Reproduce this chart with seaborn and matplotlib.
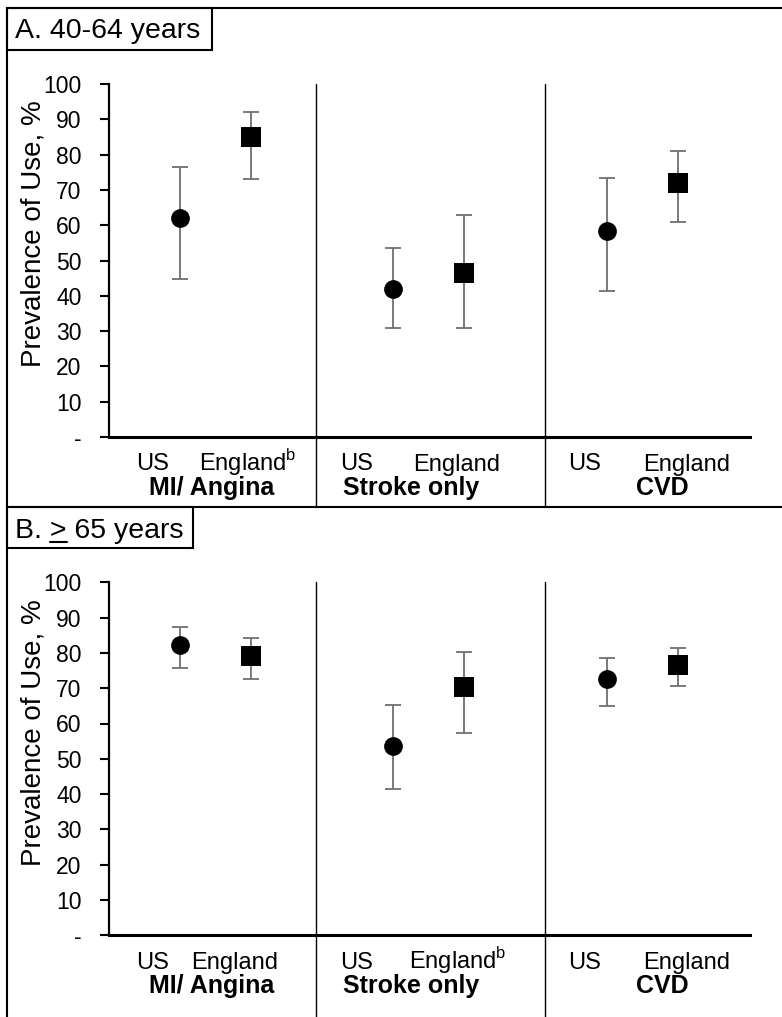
import numpy as np
import pandas as pd
import matplotlib
matplotlib.use('Agg')
import matplotlib.pyplot as plt
import matplotlib.transforms as mtransforms
from matplotlib.lines import Line2D
from matplotlib.patches import Rectangle
import seaborn as sns

# values (prevalence of use, % with 95% CI)
conditions = ['MI/ Angina', 'Stroke only', 'CVD']
countries = ['US', 'England']

us_4064 = [62.0, 41.8, 58.3]
us_4064_lo = [44.8, 30.8, 41.4]
us_4064_hi = [76.6, 53.6, 73.3]
eng_4064 = [85.1, 46.5, 72.0]
eng_4064_lo = [73.0, 30.8, 60.8]
eng_4064_hi = [92.0, 62.8, 81.0]

us_65 = [82.2, 53.6, 72.5]
us_65_lo = [75.8, 41.4, 65.0]
us_65_hi = [87.2, 65.2, 78.6]
eng_65 = [79.2, 70.3, 76.7]
eng_65_lo = [72.7, 57.3, 70.7]
eng_65_hi = [84.2, 80.2, 81.4]

ytick_vals = list(range(0, 101, 10))
ytick_labels = ['-'] + [str(v) for v in ytick_vals[1:]]

sns.set_theme(style='white')
plt.rcParams['font.family'] = ['Liberation Sans', 'DejaVu Sans']
plt.rcParams['mathtext.fontset'] = 'custom'
plt.rcParams['mathtext.rm'] = 'Liberation Sans'
plt.rcParams['text.color'] = 'black'
plt.rcParams['axes.labelcolor'] = 'black'
plt.rcParams['ytick.color'] = 'black'

W, H = 782, 1017
fig = plt.figure(figsize=(W / 100, H / 100), dpi=100)


def fx(x):
    return x / W


def fy(y):
    return 1 - y / H


def make_df(us, us_lo, us_hi, eng, eng_lo, eng_hi):
    rows = []
    for i, c in enumerate(conditions):
        rows.append(dict(condition=c, country='US', est=us[i], lo=us_lo[i], hi=us_hi[i], pos=i * 3))
        rows.append(dict(condition=c, country='England', est=eng[i], lo=eng_lo[i], hi=eng_hi[i], pos=i * 3 + 1))
    return pd.DataFrame(rows)


# layout (axes in pixels): y-axis at x=109, 100 at top, 0 at bottom
ax_left, ax_right = 109.3, 750
axis_h = 353
sep_x = [1.917, 5.13]
us_lab_x = [-0.385, 2.487, 5.697]
grp_lab_x = [0.446, 3.247, 6.781]


def draw_panel(y_zero, df, flag_idx, sep_bottom, eng_lab_x):
    ax = fig.add_axes([fx(ax_left), fy(y_zero), (ax_right - ax_left) / W, axis_h / H])
    ax.errorbar(df['pos'], df['est'], yerr=[df['est'] - df['lo'], df['hi'] - df['est']],
                fmt='none', ecolor='#6f6f6f', elinewidth=1.3, capsize=5.5, capthick=1.3, zorder=2)
    sns.scatterplot(data=df[df['country'] == 'US'], x='pos', y='est', marker='o', s=13.5 ** 2,
                    color='black', linewidth=0, ax=ax, zorder=3, legend=False)
    sns.scatterplot(data=df[df['country'] == 'England'], x='pos', y='est', marker='s', s=14 ** 2,
                    color='black', linewidth=0, ax=ax, zorder=3, legend=False)
    ax.set_xlim(-1, 8.02)
    ax.set_ylim(0, 100)
    ax.set_yticks(ytick_vals)
    ax.set_yticklabels(ytick_labels)
    ax.set_xticks([])
    ax.set_xlabel('')
    ax.set_ylabel('Prevalence of Use, %', fontsize=20, color='black')
    ax.yaxis.set_label_coords(-0.098, 0.575)
    for s in ['top', 'right']:
        ax.spines[s].set_visible(False)
    ax.spines['left'].set_linewidth(1.6)
    ax.spines['left'].set_color('black')
    ax.spines['bottom'].set_linewidth(2.2)
    ax.spines['bottom'].set_color('black')
    ax.tick_params(axis='y', direction='out', length=6.5, width=1.5, pad=13.5,
                   labelsize=16.5, colors='black', left=True)
    ax.set_facecolor('none')
    bfrac = -(sep_bottom - y_zero) / axis_h
    for sx in sep_x:
        ax.axvline(sx, ymin=bfrac, ymax=1, color='black', lw=1.0, clip_on=False)
    trans = mtransforms.blended_transform_factory(ax.transData, ax.transAxes)
    y1 = -33.5 / axis_h
    y2 = -58 / axis_h
    for i in range(3):
        ax.text(us_lab_x[i], y1, 'US', transform=trans, ha='center', va='baseline', fontsize=17)
        lab = 'England$^{\\mathrm{b}}$' if i == flag_idx else 'England'
        ax.text(eng_lab_x[i], y1, lab, transform=trans, ha='center', va='baseline', fontsize=17)
        ax.text(grp_lab_x[i], y2, conditions[i], transform=trans, ha='center', va='baseline',
                fontsize=18, fontweight='bold')
    return ax


df_top = make_df(us_4064, us_4064_lo, us_4064_hi, eng_4064, eng_4064_lo, eng_4064_hi)
df_bot = make_df(us_65, us_65_lo, us_65_hi, eng_65, eng_65_lo, eng_65_hi)
draw_panel(437, df_top, 0, 507, [0.95, 3.895, 7.133])
draw_panel(935.3, df_bot, 1, 1017, [0.763, 3.90, 7.133])

# outer frame and panel divider
lw_frame = 1.5
fig.add_artist(Line2D([fx(7), fx(7)], [fy(8), 0], color='black', lw=lw_frame))
fig.add_artist(Line2D([fx(7), 1], [fy(8), fy(8)], color='black', lw=lw_frame))
fig.add_artist(Line2D([fx(7), 1], [fy(507), fy(507)], color='black', lw=lw_frame))

# panel titles in boxes
fig.add_artist(Rectangle((fx(7), fy(50)), (212 - 7) / W, 42 / H, transform=fig.transFigure,
                         fill=False, edgecolor='black', lw=lw_frame))
fig.text(fx(15), fy(38.5), 'A. 40-64 years', fontsize=20.5, va='baseline', ha='left')

fig.add_artist(Rectangle((fx(7), fy(548)), (193 - 7) / W, 41 / H, transform=fig.transFigure,
                         fill=False, edgecolor='black', lw=lw_frame))
tb = fig.text(fx(15), fy(538.5), 'B. > 65 years', fontsize=20.5, va='baseline', ha='left')

# underline under ">"
fig.canvas.draw()
r = fig.canvas.get_renderer()
t1 = fig.text(fx(15), fy(538.5), 'B. >', fontsize=20.5, va='baseline', ha='left')
t2 = fig.text(fx(15), fy(538.5), '>', fontsize=20.5, va='baseline', ha='left')
e1 = t1.get_window_extent(r)
e2 = t2.get_window_extent(r)
t1.remove()
t2.remove()
x1 = e1.x1 / W
x0 = (e1.x1 - e2.width) / W
fig.add_artist(Line2D([x0, x1], [fy(542), fy(542)], color='black', lw=1.5))

fig.savefig('out.png', dpi=100)
